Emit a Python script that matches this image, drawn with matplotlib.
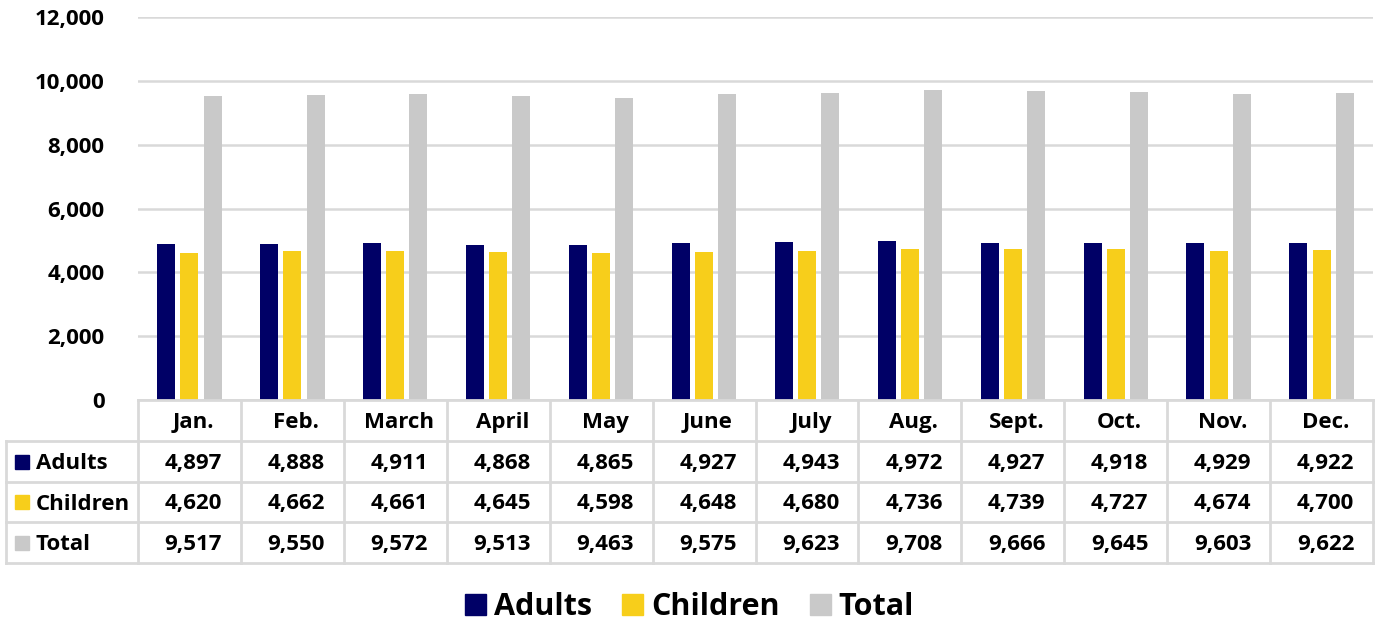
import numpy as np
import matplotlib.pyplot as plt
from matplotlib.patches import Rectangle, Patch
from matplotlib.lines import Line2D

# === DATA ===
months = ["Jan.", "Feb.", "March", "April", "May", "June",
          "July", "Aug.", "Sept.", "Oct.", "Nov.", "Dec."]
adults = [4897, 4888, 4911, 4868, 4865, 4927, 4943, 4972, 4927, 4918, 4929, 4922]
children = [4620, 4662, 4661, 4645, 4598, 4648, 4680, 4736, 4739, 4727, 4674, 4700]
total = [9517, 9550, 9572, 9513, 9463, 9575, 9623, 9708, 9666, 9645, 9603, 9622]
series_names = ["Adults", "Children", "Total"]

# === STYLE ===
COLORS = ["#000066", "#F7CE1B", "#C9C9C9"]
GRID = "#D9D9D9"
plt.rcParams["font.family"] = ["Open Sans", "DejaVu Sans"]
plt.rcParams["font.weight"] = "bold"

W, H = 1379, 624
fig = plt.figure(figsize=(W / 100, H / 100), dpi=100)

def fx(px):
    return px / W

def fy(py):
    return 1 - py / H

# plot area in pixels
AX_L, AX_R, AX_T, AX_B = 138, 1373, 17, 400
ax = fig.add_axes([fx(AX_L), fy(AX_B), fx(AX_R - AX_L), (AX_B - AX_T) / H])

x = np.arange(len(months))
bw = 0.175
off = 0.225
for i, vals in enumerate([adults, children, total]):
    ax.bar(x + (i - 1) * off, vals, width=bw, color=COLORS[i], zorder=3)

ax.set_xlim(-0.5, len(months) - 0.5)
ax.set_ylim(0, 12000)
ax.set_yticks(range(0, 12001, 2000))
ax.set_yticklabels([f"{v:,}" for v in range(0, 12001, 2000)], fontsize=16, fontweight="bold")
ax.tick_params(axis="y", length=0, pad=24)
ax.set_xticks([])
ax.grid(axis="y", color=GRID, linewidth=1.8, zorder=0)
for s in ax.spines.values():
    s.set_visible(False)

# === DATA TABLE (drawn below the axes) ===
col_w = (AX_R - AX_L) / len(months)
row_y = [400, 441, 482, 522, 563]
line_kw = dict(color=GRID, linewidth=2, transform=fig.transFigure)
TXT_SHIFT = 2  # nudge text down a little to sit mid-row

# horizontal lines
fig.add_artist(Line2D([fx(AX_L), fx(AX_R)], [fy(row_y[0])] * 2, **line_kw))
for yy in row_y[1:]:
    fig.add_artist(Line2D([fx(6), fx(AX_R)], [fy(yy)] * 2, **line_kw))
# vertical lines
for j in range(len(months) + 1):
    xx = AX_L + j * col_w
    fig.add_artist(Line2D([fx(xx)] * 2, [fy(row_y[0]), fy(row_y[-1])], **line_kw))
fig.add_artist(Line2D([fx(6)] * 2, [fy(row_y[1]), fy(row_y[-1])], **line_kw))

# header row
for j, m in enumerate(months):
    cx = AX_L + (j + 0.5) * col_w + 4
    cy = (row_y[0] + row_y[1]) / 2 + TXT_SHIFT
    fig.text(fx(cx), fy(cy), m, ha="center", va="center", fontsize=16, fontweight="bold")

# data rows
for r, (name, vals) in enumerate(zip(series_names, [adults, children, total])):
    cy = (row_y[r + 1] + row_y[r + 2]) / 2
    fig.add_artist(Rectangle((fx(15), fy(cy + 7)), fx(14), 14 / H,
                             color=COLORS[r], transform=fig.transFigure))
    fig.text(fx(36), fy(cy + TXT_SHIFT), name, ha="left", va="center",
             fontsize=16, fontweight="bold")
    for j, v in enumerate(vals):
        cx = AX_L + (j + 0.5) * col_w + 4
        fig.text(fx(cx), fy(cy + TXT_SHIFT), f"{v:,}", ha="center", va="center",
                 fontsize=16, fontweight="bold")

# === LEGEND ===
handles = [Patch(color=c) for c in COLORS]
fig.legend(handles, series_names, loc="center", bbox_to_anchor=(0.5, fy(607)),
           ncol=3, frameon=False, prop={"size": 22, "weight": "bold"},
           handlelength=0.68, handleheight=0.68, handletextpad=0.25, columnspacing=1.0)

fig.savefig("out.png", dpi=100)
